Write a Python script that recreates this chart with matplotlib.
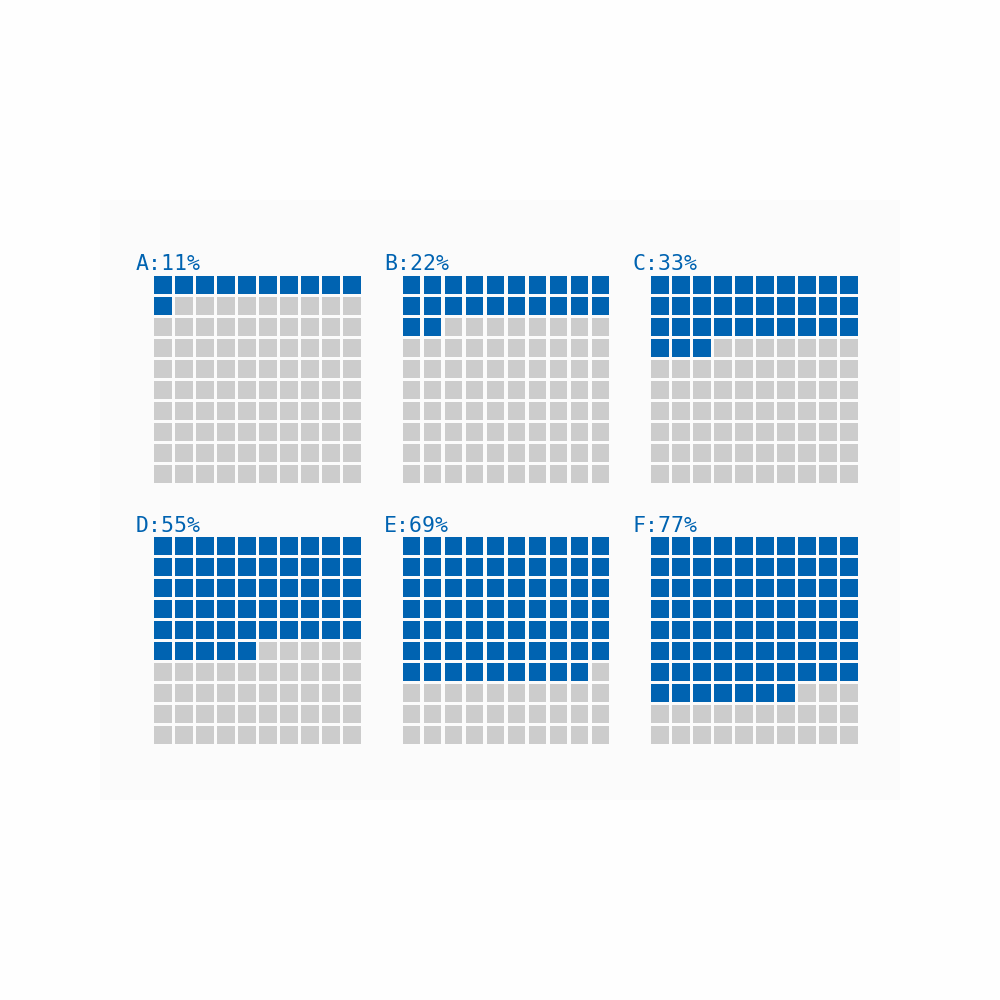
import matplotlib
matplotlib.use("Agg")
import matplotlib.pyplot as plt
from matplotlib.patches import Rectangle

labels = ["A", "B", "C", "D", "E", "F"]
values = [11, 22, 33, 55, 69, 77]

blue = "#0063b1"
grey = "#cccccc"

fig = plt.figure(figsize=(10, 10), dpi=100, facecolor="#fefefe")
# very light panel behind the waffles
fig.patches.append(Rectangle((0.1, 0.2), 0.8, 0.6, transform=fig.transFigure,
                             facecolor="#fbfbfb", edgecolor="none", zorder=-5))

pitch = 21.0      # px per cell
cell = 0.83       # fraction of pitch filled
x0s = [152.5, 401, 649.5]
y0s = [274.5, 535.5]

for k, (lab, val) in enumerate(zip(labels, values)):
    r, c = divmod(k, 3)
    left = x0s[c]
    top = y0s[r]
    ax = fig.add_axes([left / 1000, 1 - (top + 10 * pitch) / 1000,
                       10 * pitch / 1000, 10 * pitch / 1000])
    ax.set_zorder(1)
    ax.patch.set_visible(False)
    ax.set_xlim(0, 10)
    ax.set_ylim(10, 0)
    ax.axis("off")
    off = (1 - cell) / 2
    for i in range(100):
        row, col = divmod(i, 10)
        ax.add_patch(Rectangle((col + off, row + off), cell, cell,
                               facecolor=blue if i < val else grey,
                               edgecolor="none"))
    fig.text((left - 17) / 1000, 1 - (top - 4) / 1000, f"{lab}:{val}%",
             color=blue, fontsize=15.5, family="DejaVu Sans Mono",
             ha="left", va="baseline", zorder=2)

fig.savefig("out.png", dpi=100, facecolor=fig.get_facecolor())
